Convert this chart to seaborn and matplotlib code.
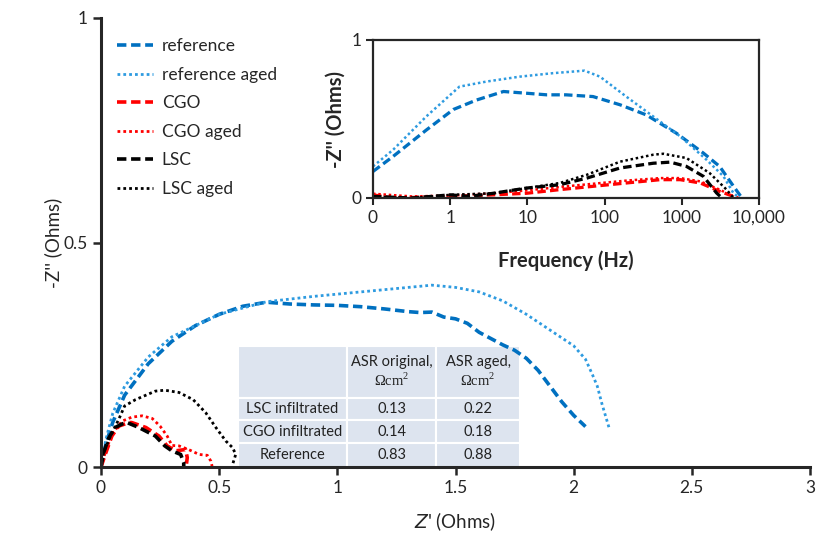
import numpy as np
import pandas as pd
import seaborn as sns
import matplotlib.pyplot as plt
from matplotlib.ticker import FixedLocator, NullLocator

# Nyquist data (Z', -Z'') in Ohms
ref_x = [0, 0.02, 0.05, 0.1, 0.2, 0.3, 0.4, 0.5, 0.6, 0.7, 0.8, 0.9, 1.0, 1.1, 1.2, 1.3, 1.35,
         1.4, 1.45, 1.5, 1.55, 1.6, 1.7, 1.75, 1.8, 1.85, 1.9, 1.95, 2.0, 2.05]
ref_y = [0, 0.05, 0.1, 0.16, 0.23, 0.28, 0.315, 0.34, 0.358, 0.367, 0.363, 0.361, 0.36, 0.357,
         0.352, 0.346, 0.344, 0.345, 0.334, 0.33, 0.32, 0.3, 0.272, 0.26, 0.242, 0.215, 0.18,
         0.145, 0.115, 0.09]
refa_x = [0, 0.02, 0.05, 0.1, 0.2, 0.3, 0.5, 0.7, 0.9, 1.0, 1.1, 1.2, 1.3, 1.4, 1.5, 1.6, 1.7,
          1.8, 1.9, 2.0, 2.05, 2.08, 2.1, 2.12, 2.15]
refa_y = [0, 0.06, 0.12, 0.18, 0.245, 0.29, 0.34, 0.368, 0.38, 0.385, 0.39, 0.395, 0.4, 0.405,
          0.4, 0.39, 0.37, 0.34, 0.305, 0.27, 0.24, 0.205, 0.18, 0.14, 0.087]
cgo_x = [0, 0.018, 0.046, 0.075, 0.118, 0.13, 0.19, 0.245, 0.28, 0.316, 0.358, 0.365, 0.36]
cgo_y = [0, 0.028, 0.069, 0.091, 0.099, 0.099, 0.088, 0.069, 0.047, 0.036, 0.039, 0.021, 0]
cgoa_x = [0, 0.018, 0.046, 0.089, 0.13, 0.174, 0.217, 0.25, 0.28, 0.30, 0.33, 0.37, 0.415,
          0.45, 0.465, 0.47]
cgoa_y = [0, 0.032, 0.073, 0.102, 0.111, 0.114, 0.108, 0.091, 0.069, 0.048, 0.047, 0.039,
          0.028, 0.026, 0.013, 0.002]
lsc_x = [0, 0.011, 0.033, 0.06, 0.09, 0.11, 0.16, 0.23, 0.27, 0.30, 0.337, 0.35, 0.35]
lsc_y = [0, 0.032, 0.065, 0.088, 0.096, 0.099, 0.088, 0.069, 0.047, 0.036, 0.028, 0.01, 0]
lsca_x = [0, 0.011, 0.04, 0.075, 0.10, 0.146, 0.23, 0.27, 0.33, 0.39, 0.443, 0.486, 0.528,
          0.557, 0.57, 0.557]
lsca_y = [0, 0.032, 0.069, 0.106, 0.136, 0.15, 0.169, 0.171, 0.166, 0.15, 0.121, 0.088, 0.058,
          0.043, 0.028, 0.006]

# Bode data: log10(frequency / Hz) and -Z''
b_ref_lf = [-1, -0.74, -0.31, 0.04, 0.34, 0.69, 0.99, 1.25, 1.5, 1.85, 2.2, 2.54, 2.93, 3.28,
            3.49, 3.67, 3.78]
b_ref_z = [0.168, 0.263, 0.43, 0.56, 0.62, 0.674, 0.663, 0.653, 0.653, 0.642, 0.59, 0.526, 0.41,
           0.284, 0.2, 0.074, 0]
b_refa_lf = [-1, -0.74, -0.31, 0.12, 0.47, 0.9, 1.33, 1.74, 1.94, 2.28, 2.63, 2.98, 3.32, 3.54,
             3.67, 3.75]
b_refa_z = [0.2, 0.305, 0.516, 0.705, 0.737, 0.768, 0.79, 0.806, 0.768, 0.642, 0.516, 0.39,
            0.242, 0.137, 0.03, 0]
b_lsc_lf = [-1, -0.5, 0, 0.25, 0.56, 0.99, 1.42, 1.77, 2.2, 2.63, 2.85, 3.06, 3.28, 3.45, 3.52]
b_lsc_z = [0.01, 0, 0.02, 0.01, 0.03, 0.063, 0.084, 0.126, 0.19, 0.22, 0.227, 0.2, 0.137,
           0.032, 0]
b_lsca_lf = [-1, -0.5, 0, 0.56, 0.99, 1.42, 1.77, 2.2, 2.63, 2.76, 3.06, 3.36, 3.58, 3.67]
b_lsca_z = [0.01, 0, 0.02, 0.03, 0.063, 0.095, 0.147, 0.23, 0.274, 0.28, 0.253, 0.158, 0.053, 0]
b_cgo_lf = [-1, -0.74, 0, 0.56, 0.99, 1.42, 1.85, 2.28, 2.72, 2.98, 3.24, 3.49, 3.67, 3.73]
b_cgo_z = [0.02, 0, 0.01, 0.02, 0.03, 0.053, 0.074, 0.095, 0.116, 0.116, 0.095, 0.042, 0.01, 0]
b_cgoa_lf = [-1, -0.5, 0, 0.56, 0.99, 1.42, 1.85, 2.28, 2.72, 2.98, 3.24, 3.49, 3.71]
b_cgoa_z = [0.027, 0.01, 0.015, 0.03, 0.048, 0.07, 0.09, 0.11, 0.126, 0.126, 0.105, 0.053, 0]

labels = ['reference', 'reference aged', 'CGO', 'CGO aged', 'LSC', 'LSC aged']
colors = ['#0070C0', '#2E9BE0', '#FF0000', '#FF0000', '#000000', '#000000']
dashed = [True, False, True, False, True, False]

nyq = [(ref_x, ref_y), (refa_x, refa_y), (cgo_x, cgo_y), (cgoa_x, cgoa_y),
       (lsc_x, lsc_y), (lsca_x, lsca_y)]
bode = [(b_ref_lf, b_ref_z), (b_refa_lf, b_refa_z), (b_cgo_lf, b_cgo_z),
        (b_cgoa_lf, b_cgoa_z), (b_lsc_lf, b_lsc_z), (b_lsca_lf, b_lsca_z)]

table_rows = ['LSC infiltrated', 'CGO infiltrated', 'Reference']
table_cols = ['ASR original,\n$\\Omega\\mathrm{cm}^2$', 'ASR aged,\n$\\Omega\\mathrm{cm}^2$']
asr_orig = ['0.13', '0.14', '0.83']
asr_aged = ['0.22', '0.18', '0.88']

sns.set_style('ticks')
plt.rcParams['font.family'] = ['Lato', 'DejaVu Sans']
plt.rcParams['mathtext.fontset'] = 'custom'
plt.rcParams['mathtext.rm'] = 'Liberation Serif'
plt.rcParams['mathtext.it'] = 'DejaVu Sans:italic'

W, H = 816, 539
fig = plt.figure(figsize=(W / 100, H / 100), dpi=100)
ax = fig.add_axes([101 / W, (H - 467) / H, 709 / W, 449 / H])


def style_kw(i):
    if dashed[i]:
        return dict(linewidth=2.6, dashes=(2.6, 1.3))
    return dict(linewidth=2.0, dashes=(1, 1.1))


for i, (xs, ys) in enumerate(nyq):
    sns.lineplot(x=xs, y=ys, ax=ax, sort=False, estimator=None, color=colors[i],
                 label=labels[i])
    l = ax.lines[-1]
    kw = style_kw(i)
    l.set_linewidth(kw['linewidth'])
    l.set_dashes(kw['dashes'])

ax.set_xlim(0, 3)
ax.set_ylim(0, 1)
ax.set_xticks([0, 0.5, 1, 1.5, 2, 2.5, 3])
ax.set_xticklabels(['0', '0.5', '1', '1.5', '2', '2.5', '3'])
ax.set_yticks([0, 0.5, 1])
ax.set_yticklabels(['0', '0.5', '1'])
ax.tick_params(labelsize=12.5, width=1.8, length=6, direction='out')
for side in ['left', 'bottom']:
    ax.spines[side].set_linewidth(2.2)
for side in ['top', 'right']:
    ax.spines[side].set_visible(False)
ax.set_xlabel('$\\mathit{Z}$\' (Ohms)', fontsize=13.5, labelpad=10)
ax.set_ylabel("-Z'' (Ohms)", fontsize=13.5, labelpad=1)

leg = ax.legend(loc='upper left', bbox_to_anchor=(0.022, 0.955), frameon=False,
                fontsize=12.5, handlelength=2.1, labelspacing=0.72, borderpad=0,
                borderaxespad=0, handletextpad=0.5)

# ASR table
cell_text = [[r, a, b] for r, a, b in zip(table_rows, asr_orig, asr_aged)]
tab = ax.table(cellText=[[''] + table_cols] + cell_text, cellLoc='center',
               bbox=[(238 - 101) / 709, 0, (520 - 238) / 709, (467 - 346) / 449])
tab.auto_set_font_size(False)
col_w = [109, 89, 84]
row_h = [52, 23, 23, 24]
for (r, c), cell in tab.get_celld().items():
    cell.set_facecolor('#DDE4EF')
    cell.set_edgecolor('white')
    cell.set_linewidth(1.5)
    cell.set_width(col_w[c])
    cell.set_height(row_h[r])
    cell.get_text().set_fontsize(10.5)
    cell.get_text().set_color('#222222')

# inset Bode plot
axi = fig.add_axes([373 / W, (H - 198) / H, 386 / W, 158 / H])
for i, (lf, zs) in enumerate(bode):
    freq = [10 ** v for v in lf]
    sns.lineplot(x=freq, y=zs, ax=axi, sort=False, estimator=None, color=colors[i])
    l = axi.lines[-1]
    kw = style_kw(i)
    l.set_linewidth(kw['linewidth'] * 0.9)
    l.set_dashes(kw['dashes'])

axi.set_xscale('log')
axi.set_xlim(0.1, 10000)
axi.set_ylim(0, 1)
axi.xaxis.set_major_locator(FixedLocator([0.1, 1, 10, 100, 1000, 10000]))
axi.xaxis.set_minor_locator(NullLocator())
axi.set_xticklabels(['0', '1', '10', '100', '1000', '10,000'])
axi.set_yticks([0, 1])
axi.set_yticklabels(['0', '1'])
axi.tick_params(labelsize=12.5, width=1.5, length=5, direction='out')
for s in axi.spines.values():
    s.set_linewidth(1.6)
axi.set_xlabel('Frequency (Hz)', fontsize=14.5, fontweight='bold', labelpad=18)
axi.set_ylabel("-Z'' (Ohms)", fontsize=14.5, fontweight='bold', labelpad=4)

fig.savefig('out.png', dpi=100)
